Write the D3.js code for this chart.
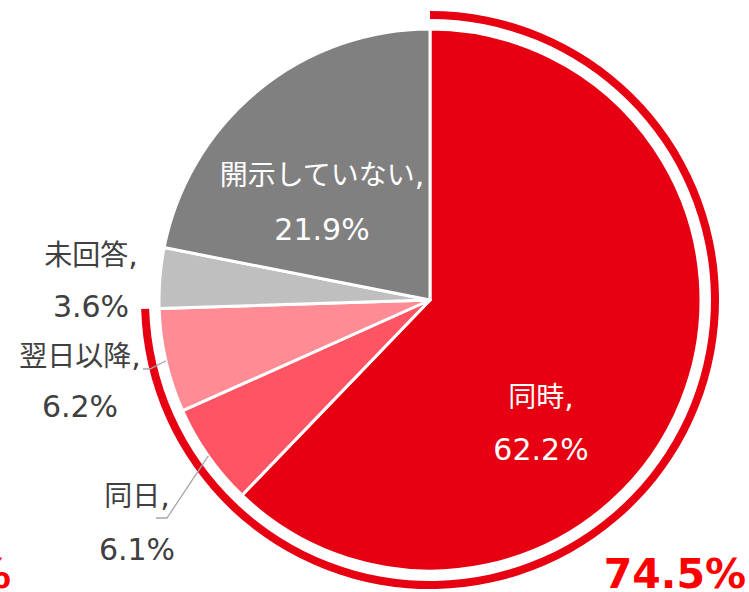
<!DOCTYPE html>
<html><head><meta charset="utf-8">
<script src="https://cdn.jsdelivr.net/npm/d3@7"></script>
<style>body{margin:0;background:#fff;}svg{display:block;}</style>
</head><body>
<svg id="c" width="749" height="592"></svg>
<script>
const categories = ["同時", "同日", "翌日以降", "未回答", "開示していない"];
const values = [62.2, 6.1, 6.2, 3.6, 21.9];
const colors = ["#E60012", "#FF5464", "#FF8C94", "#BFBFBF", "#808080"];
const highlightValue = 74.5;
const highlightLabel = "74.5%";
const leftLabel = "12.3%";

const svg = d3.select("#c");
const cx = 430, cy = 300, R = 271;
const g = svg.append("g").attr("transform", `translate(${cx},${cy})`);
const pie = d3.pie().sort(null).value(d => d);
const arcs = pie(values);
const arc = d3.arc().innerRadius(0).outerRadius(R);
g.selectAll("path.s").data(arcs).join("path").attr("class","s")
  .attr("d", arc).attr("fill", (d,i) => colors[i])
  .attr("stroke", "#fff").attr("stroke-width", 3).attr("stroke-linejoin","round");

// outer highlight arc
const hArc = d3.arc().innerRadius(281).outerRadius(289)
  .startAngle(0).endAngle(2*Math.PI*highlightValue/100);
g.append("path").attr("d", hArc()).attr("fill", "#E60012");

// leader lines
const leaders = [
  {i:1, pts:[[156,518],[167,518]]},
  {i:2, pts:[[143,369],[150,369]]}
];
leaders.forEach(l => {
  const a = arcs[l.i];
  const m = (a.startAngle + a.endAngle)/2;
  const edge = [cx + R*Math.sin(m), cy - R*Math.cos(m)];
  svg.append("polyline").attr("points", [...l.pts, edge].map(p => p.join(",")).join(" "))
    .attr("fill","none").attr("stroke","#A6A6A6").attr("stroke-width",1.3);
});

const font = "'DejaVu Sans', 'Noto Sans CJK JP', sans-serif";
const cjk = "'Noto Sans CJK JP', sans-serif";
const labelPos = [
  {x:541, y1:407, y2:460, fill:"#fff"},
  {x:137, y1:506, y2:560, fill:"#404040"},
  {x:80, y1:366, y2:417, fill:"#404040"},
  {x:91, y1:265, y2:317, fill:"#404040"},
  {x:322, y1:185, y2:240, fill:"#fff"}
];
categories.forEach((c,i) => {
  const p = labelPos[i];
  const t = svg.append("text").attr("text-anchor","middle").attr("font-family",font)
    .attr("font-size",30).attr("fill",p.fill);
  const l1 = t.append("tspan").attr("x",p.x).attr("y",p.y1);
  l1.append("tspan").attr("font-family",cjk).attr("font-size",28).text(c);
  l1.append("tspan").text(",");
  t.append("tspan").attr("x",p.x).attr("y",p.y2).text(values[i].toFixed(1) + "%");
});

svg.append("text").attr("x",746).attr("y",588).attr("text-anchor","end")
  .attr("font-family",font).attr("font-weight","bold").attr("font-size",41)
  .attr("fill","#FF0000").text(highlightLabel);
svg.append("text").attr("x",11).attr("y",588).attr("text-anchor","end")
  .attr("font-family",font).attr("font-weight","bold").attr("font-size",41)
  .attr("fill","#FF0000").text(leftLabel);
</script>
</body></html>
